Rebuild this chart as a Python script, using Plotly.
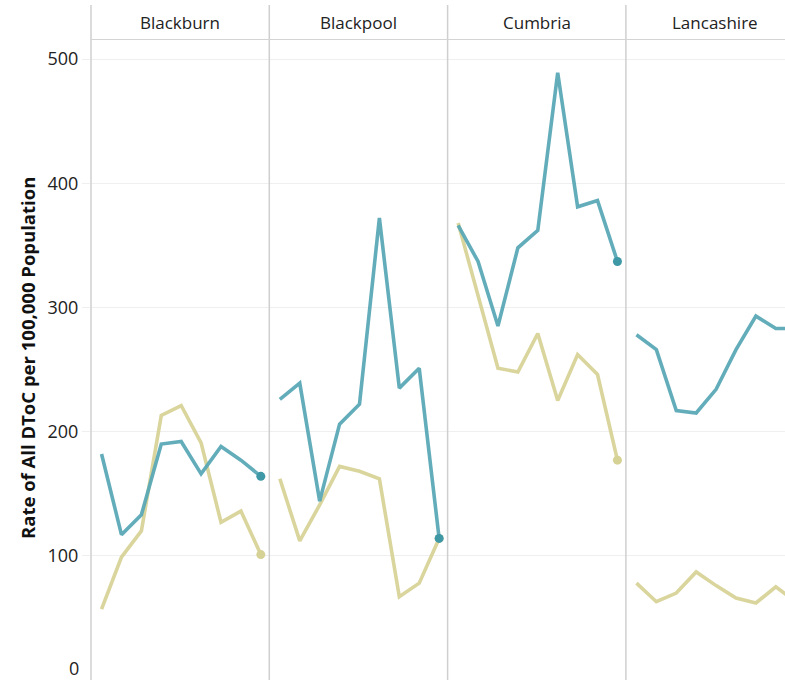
import plotly.graph_objects as go

# ---- data ----
areas = ["Blackburn", "Blackpool", "Cumbria", "Lancashire"]
periods = ["P1", "P2", "P3", "P4", "P5", "P6", "P7", "P8", "P9"]

teal_blackburn = [182, 117, 133, 190, 192, 166, 188, 177, 164]
teal_blackpool = [226, 239, 144, 206, 222, 372, 235, 251, 114]
teal_cumbria = [366, 337, 285, 348, 362, 489, 381, 386, 337]
teal_lancashire = [278, 266, 217, 215, 234, 266, 293, 283, 283]

khaki_blackburn = [57, 99, 120, 213, 221, 191, 127, 136, 101]
khaki_blackpool = [162, 112, 141, 172, 168, 162, 67, 78, 114]
khaki_cumbria = [368, 310, 251, 248, 279, 225, 262, 246, 177]
khaki_lancashire = [78, 63, 70, 87, 76, 66, 62, 75, 63]

teal_series = [teal_blackburn, teal_blackpool, teal_cumbria, teal_lancashire]
khaki_series = [khaki_blackburn, khaki_blackpool, khaki_cumbria, khaki_lancashire]

y_ticks = [0, 100, 200, 300, 400, 500]

# ---- layout geometry ----
W, H = 785, 680
L, T = 91, 40
pw, ph = W - L, H - T
panel_px = 178.3
step_px = 19.91
x0 = -0.53

def px2x(px):
    return (px - L) / pw

def py2y(py):
    return (H - py) / ph

TEAL = "rgba(86,166,181,0.92)"
TEAL_DOT = "#3f98a6"
KHAKI = "rgba(214,209,148,0.92)"
KHAKI_DOT = "#d6d194"
FONT = "Open Sans"

fig = go.Figure()

for i, area in enumerate(areas):
    xa = "x" if i == 0 else f"x{i+1}"
    ya = "y"
    left_px = L + i * panel_px
    right_px = min(L + (i + 1) * panel_px, W)
    dom = [max(0, px2x(left_px)), min(1, px2x(right_px))]
    vis_units = (right_px - left_px) / step_px
    axname = "xaxis" if i == 0 else f"xaxis{i+1}"
    fig.update_layout(**{axname: dict(domain=dom, range=[x0, x0 + vis_units],
                                      showgrid=False, zeroline=False, showticklabels=False,
                                      ticks="", showline=False, anchor="y", fixedrange=True)})
    idx = list(range(len(periods)))
    for vals, col, dot in ((khaki_series[i], KHAKI, KHAKI_DOT), (teal_series[i], TEAL, TEAL_DOT)):
        fig.add_trace(go.Scatter(x=idx, y=vals, mode="lines", xaxis=xa, yaxis=ya,
                                 line=dict(color=col, width=3.6), showlegend=False,
                                 hoverinfo="skip", cliponaxis=True))
        fig.add_trace(go.Scatter(x=[idx[-1]], y=[vals[-1]], mode="markers", xaxis=xa, yaxis=ya,
                                 marker=dict(color=dot, size=9), showlegend=False,
                                 hoverinfo="skip", cliponaxis=True))
    # header text
    cx = (left_px + L + (i + 1) * panel_px) / 2
    fig.add_annotation(text=area, xref="paper", yref="paper", x=px2x(cx), y=py2y(22),
                       showarrow=False, xanchor="center", yanchor="middle",
                       font=dict(family=FONT, size=17, color="#222"))

# vertical dividers
for i in range(4):
    px = L + i * panel_px
    fig.add_shape(type="line", xref="paper", yref="paper", x0=px2x(px), x1=px2x(px),
                  y0=py2y(5), y1=py2y(H), line=dict(color="#cfcfcf", width=1.5), layer="above")
# header bottom line
fig.add_shape(type="line", xref="paper", yref="paper", x0=0, x1=1, y0=py2y(39.5), y1=py2y(39.5),
              line=dict(color="#d4d4d4", width=1), layer="above")

fig.update_layout(
    width=W, height=H, margin=dict(l=L, r=0, t=T, b=0),
    plot_bgcolor="white", paper_bgcolor="white",
    yaxis=dict(range=[0, 515.3], tickvals=y_ticks[1:], showgrid=True, gridcolor="#efefef",
               gridwidth=1, zeroline=False, showline=False, ticks="outside", ticklen=8,
               tickcolor="#efefef", tickfont=dict(family=FONT, size=18, color="#222"),
               fixedrange=True, automargin=False),
)

# "0" label nudged up into view
fig.add_annotation(text=str(y_ticks[0]), xref="paper", yref="paper", x=px2x(81), y=py2y(668),
                   showarrow=False, xanchor="right", yanchor="middle",
                   font=dict(family=FONT, size=18, color="#222"))

# y title
fig.add_annotation(text="<b>Rate of All DToC per 100,000 Population</b>", xref="paper", yref="paper",
                   x=px2x(27), y=py2y(358), textangle=-90, showarrow=False,
                   xanchor="center", yanchor="middle",
                   font=dict(family=FONT, size=18.5, color="#111"))

fig.write_html("out.html", config={"displayModeBar": False},
               post_script="document.body.style.margin='0px';document.body.style.overflow='hidden';")
